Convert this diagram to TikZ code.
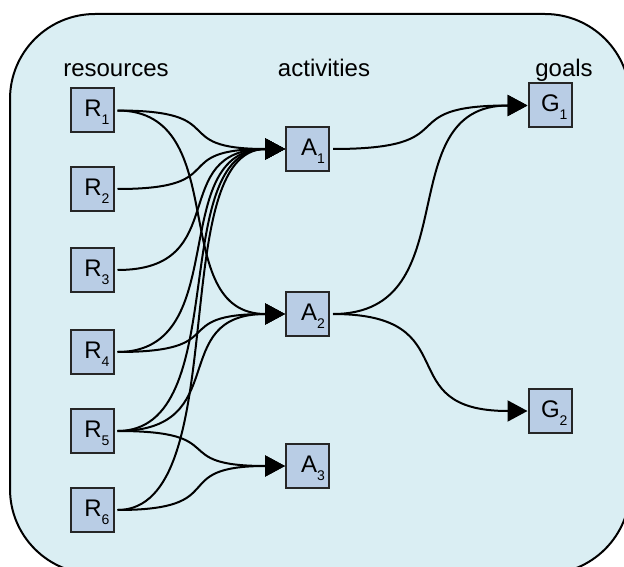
\documentclass[tikz,border=0pt]{standalone}
\usepackage{fontspec}
\setmainfont{Liberation Sans}
\usetikzlibrary{arrows.meta}

\definecolor{panelfill}{HTML}{DAEEF3}
\definecolor{boxfill}{HTML}{B9CDE5}

\newcommand{\subidx}[1]{\raisebox{-8pt}{\fontsize{14}{14}\selectfont #1}}

\begin{document}
\begin{tikzpicture}[x=1pt,y=-1pt]
  \tikzset{
    itembox/.style={
      rectangle,
      draw=black!85,
      fill=boxfill,
      line width=2pt,
      minimum width=43pt,
      minimum height=44pt,
      inner sep=0pt,
      text width=35pt,
      align=right,
      text height=17pt,
      text depth=4pt,
      font=\fontsize{24}{24}\selectfont
    },
    heading/.style={
      anchor=base,
      inner sep=0pt,
      font=\fontsize{24}{24}\selectfont
    },
    link/.style={
      line width=2pt,
      -{Triangle[length=20pt,width=21pt]},
      shorten <=3pt,
      to path={.. controls ([xshift=#1]\tikztostart.east)
        and ([xshift=-#1]\tikztotarget.west) .. (\tikztotarget)}
    }
  }

  \useasboundingbox (0,0) rectangle (624,567);
  \clip (0,0) rectangle (624,567);
  \draw[line width=2pt, fill=panelfill, rounded corners=85pt]
    (10,14) rectangle (630,574);

  \node[heading] (res) at (116,77) {resources};
  \node[heading] (act) at (324,77) {activities};
  \node[heading] (gls) at (564,77) {goals};

  \node[itembox] (R1) at (92,110.5) {R\subidx{1}};
  \node[itembox] (R2) at (92,189) {R\subidx{2}};
  \node[itembox] (R3) at (92,270) {R\subidx{3}};
  \node[itembox] (R4) at (92,352) {R\subidx{4}};
  \node[itembox] (R5) at (92,431) {R\subidx{5}};
  \node[itembox] (R6) at (92,510) {R\subidx{6}};

  \node[itembox] (A1) at (307.5,149) {A\subidx{1}};
  \node[itembox] (A2) at (307.5,314) {A\subidx{2}};
  \node[itembox] (A3) at (307.5,466) {A\subidx{3}};

  \node[itembox] (G1) at (550,105.5) {G\subidx{1}};
  \node[itembox] (G2) at (550,411) {G\subidx{2}};

  \draw[link=120pt] (R1) to (A1);
  \draw[link=120pt] (R1) to (A2);
  \draw[link=120pt] (R2) to (A1);
  \draw[link=120pt] (R3) to (A1);
  \draw[link=120pt] (R4) to (A1);
  \draw[link=120pt] (R4) to (A2);
  \draw[link=120pt] (R5) to (A1);
  \draw[link=120pt] (R5) to (A2);
  \draw[link=120pt] (R5) to (A3);
  \draw[link=120pt] (R6) to (A1);
  \draw[link=120pt] (R6) to (A3);

  \draw[link=140pt] (A1) to (G1);
  \draw[link=140pt] (A2) to (G1);
  \draw[link=140pt] (A2) to (G2);
\end{tikzpicture}
\end{document}
